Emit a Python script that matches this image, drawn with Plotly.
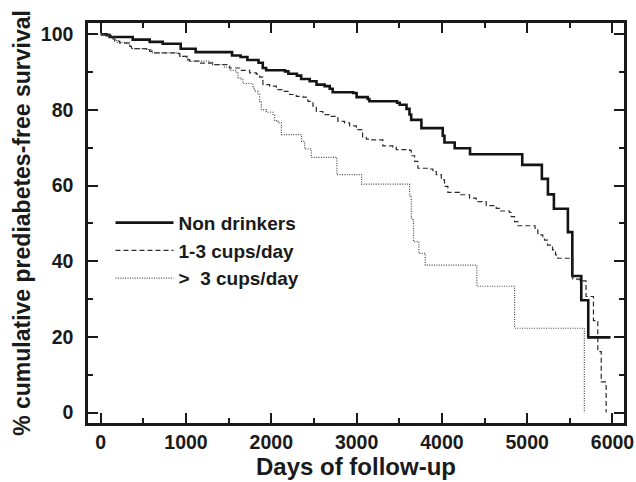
import plotly.graph_objects as go

# ---- Data ----
non_days = [0, 70, 105, 375, 574, 727, 938, 1113, 1540, 1640, 1720, 1850, 1900, 1940, 2160, 2200,
            2300, 2350, 2450, 2530, 2625, 2685, 2720, 2960, 3000, 3130, 3150, 3475, 3505, 3585,
            3620, 3640, 3760, 4010, 4030, 4150, 4330, 4942, 5172, 5243, 5313, 5477, 5529, 5634,
            5716, 5977]
non_surv = [100, 99.8, 99.3, 98.6, 98.0, 97.5, 96.2, 95.3, 94.4, 94.0, 93.2, 92.5, 91.1, 90.5, 90.2, 89.6,
            89.1, 88.2, 87.6, 86.7, 86.3, 85.6, 84.7, 84.5, 83.4, 82.9, 82.3, 81.9, 81.4, 80.3,
            78.8, 77.4, 75.2, 73.2, 71.4, 69.9, 68.3, 65.5, 61.8, 57.7, 53.9, 47.7, 36.1, 29.7,
            19.9, 19.9]

mid_days = [0, 67, 125, 164, 223, 340, 360, 536, 574, 613, 887, 926, 1004, 1043, 1160, 1316, 1512,
            1629, 1746, 1825, 1863, 1902, 1981, 2059, 2136, 2215, 2293, 2371, 2429, 2488, 2528,
            2605, 2684, 2762, 2781, 2859, 2918, 2997, 3070, 3114, 3152, 3308, 3425, 3465, 3621,
            3641, 3680, 3718, 3836, 3894, 3934, 3993, 4031, 4070, 4207, 4324, 4403, 4520, 4637,
            4676, 4793, 4813, 4852, 4891, 5092, 5125, 5183, 5203, 5238, 5297, 5332, 5359, 5535,
            5613, 5690, 5777, 5828, 5868, 5926]
mid_surv = [100, 99.7, 98.8, 98.2, 97.7, 96.8, 96.2, 96.0, 95.5, 95.1, 94.9, 94.2, 93.3, 92.9, 92.4, 92.0, 91.1,
            90.5, 89.8, 89.5, 88.7, 86.7, 86.3, 85.4, 84.9, 84.1, 83.6, 83.4, 82.3, 81.0, 79.6,
            78.8, 78.3, 77.9, 77.0, 76.6, 75.8, 74.8, 72.8, 72.3, 72.1, 70.5, 70.2, 69.5, 69.3,
            67.9, 66.4, 64.6, 64.4, 63.7, 62.9, 61.5, 59.8, 58.2, 57.6, 56.7, 55.8, 54.7, 54.0,
            53.3, 52.9, 51.8, 50.5, 49.4, 48.3, 47.0, 46.5, 45.6, 44.3, 43.0, 41.7, 40.8, 35.3,
            34.8, 30.7, 24.3, 16.1, 8.1, 0]

high_days = [0, 105, 164, 188, 340, 363, 551, 598, 926, 1020, 1277, 1312, 1453, 1512, 1590, 1609,
             1649, 1668, 1785, 1805, 1843, 1863, 1883, 1942, 2020, 2039, 2078, 2118, 2355, 2391,
             2469, 2769, 3059, 3621, 3641, 3660, 3668, 3730, 3805, 4410, 4852, 5670]
high_surv = [100, 99.3, 98.6, 97.9, 96.8, 96.2, 96.0, 95.1, 94.2, 92.9, 92.6, 92.0, 91.3, 90.5, 89.8, 88.5,
             88.0, 87.0, 85.8, 84.9, 84.3, 82.3, 80.1, 79.4, 78.6, 77.2, 76.6, 73.5, 71.7, 69.7,
             67.5, 62.9, 60.4, 57.3, 51.4, 50.9, 45.2, 42.1, 39.0, 33.4, 22.3, 0]

series_names = ["Non drinkers", "1-3 cups/day", ">  3 cups/day"]

x_ticks = [0, 1000, 2000, 3000, 4000, 5000, 6000]
y_ticks = [0, 20, 40, 60, 80, 100]

FONT = "Liberation Sans, Arial, sans-serif"

fig = go.Figure()
fig.add_trace(go.Scatter(x=non_days, y=non_surv, mode="lines", line_shape="hv",
                         name=series_names[0], legendgroup="a",
                         line=dict(color="#141414", width=2.6)))
fig.add_trace(go.Scatter(x=mid_days, y=mid_surv, mode="lines", line_shape="hv",
                         name=series_names[1], legendgroup="b",
                         line=dict(color="#2b2b2b", width=1.2, dash="5px,3px")))
fig.add_trace(go.Scatter(x=high_days, y=high_surv, mode="lines", line_shape="hv",
                         name=series_names[2], legendgroup="c",
                         line=dict(color="#4a4a4a", width=1.2, dash="1px,1.4px")))

axis_common = dict(
    showgrid=False, zeroline=False, showline=True, linecolor="#1a1a1a", linewidth=2.5,
    mirror="allticks", ticks="inside", tickwidth=2.2, ticklen=10, tickcolor="#1a1a1a",
    automargin=False,
    tickfont=dict(family=FONT, size=19.5, color="#1a1a1a", weight="bold"),
)

fig.update_layout(
    width=636, height=482,
    margin=dict(l=88, r=12, t=23, b=59),
    paper_bgcolor="white", plot_bgcolor="white",
    font=dict(family=FONT, color="#1a1a1a"),
    showlegend=True,
    legend=dict(x=0.042, y=0.548, xanchor="left", yanchor="top",
                bgcolor="rgba(0,0,0,0)", borderwidth=0,
                font=dict(family=FONT, size=19, color="#1a1a1a", weight="bold"),
                itemwidth=58, tracegroupgap=0),
    xaxis=dict(axis_common, range=[-149, 6135], tickvals=x_ticks, ticklabelstandoff=0,
               minor=dict(dtick=500, tick0=0, ticks="inside", ticklen=5, tickwidth=2, tickcolor="#1a1a1a"),
               title=dict(text="Days of follow-up", standoff=6,
                          font=dict(family=FONT, size=24, color="#1a1a1a", weight="bold"))),
    yaxis=dict(axis_common, range=[-2.75, 103], tickvals=y_ticks, ticklabelstandoff=8,
               minor=dict(dtick=10, tick0=0, ticks="inside", ticklen=5, tickwidth=2, tickcolor="#1a1a1a"),
               title=dict(text="% cumulative prediabetes-free survival", standoff=4,
                          font=dict(family=FONT, size=23, color="#1a1a1a", weight="bold"))),
)

# remove the default page margin so the figure sits exactly in the 636x482 window
fig.write_html("out.html", config={"displayModeBar": False},
               post_script="document.body.style.margin='0';document.body.style.overflow='hidden';")
